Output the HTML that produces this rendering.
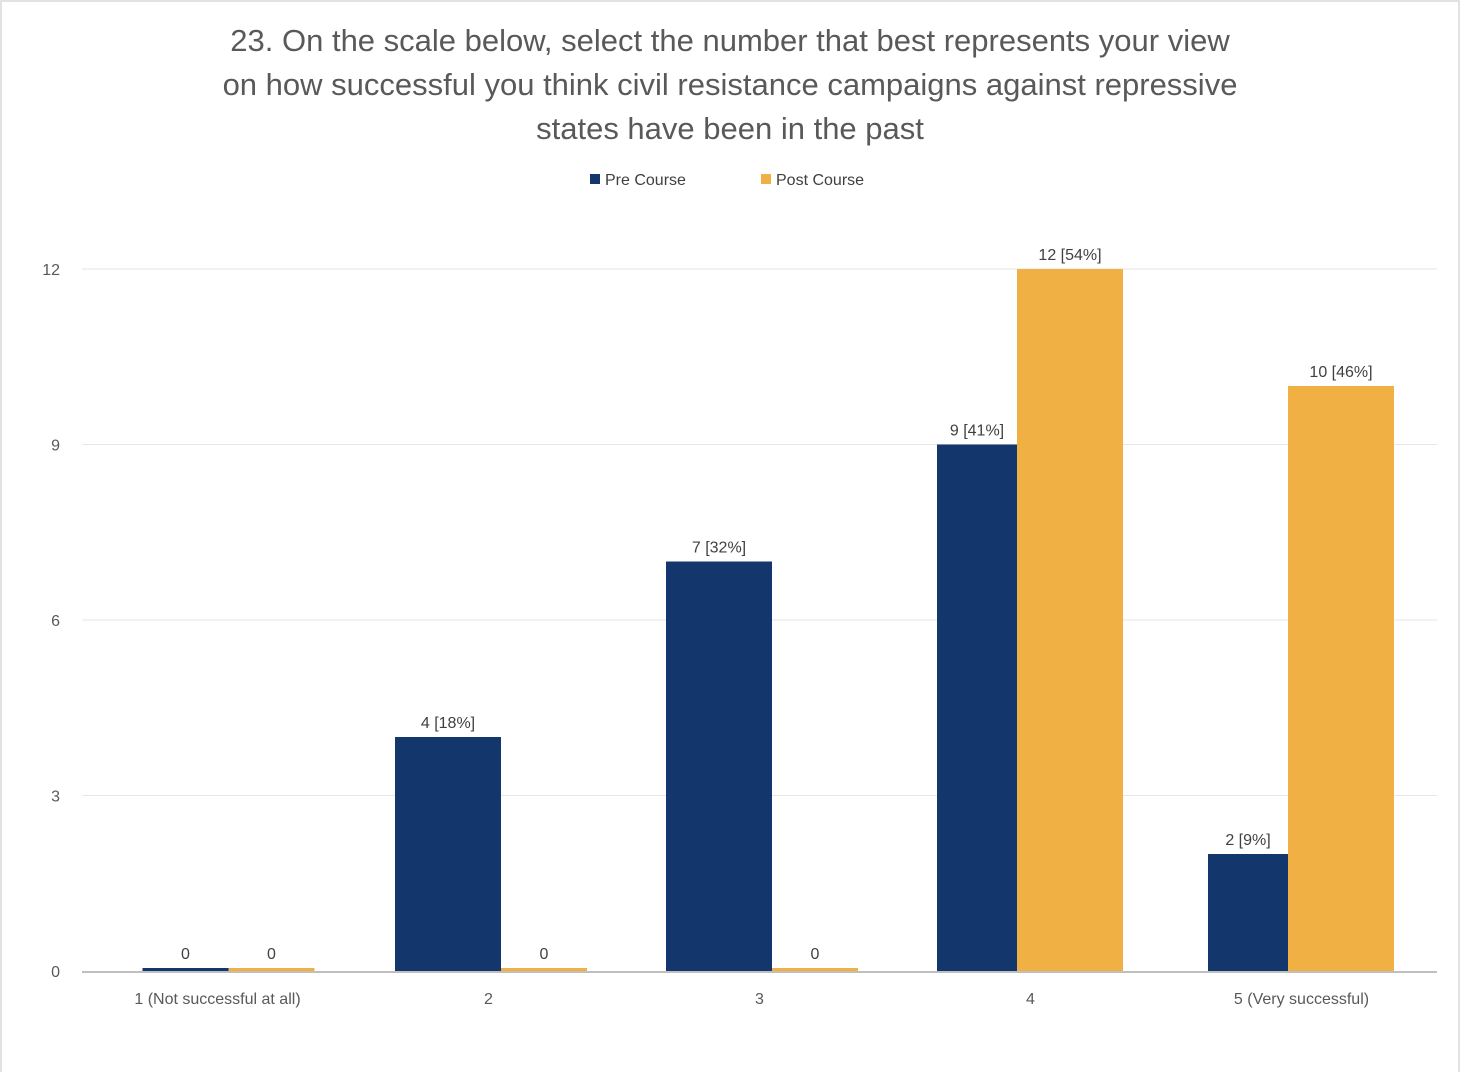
<!DOCTYPE html>
<html><head><meta charset="utf-8"><style>
body{margin:0;background:#fff;font-family:"Liberation Sans",sans-serif;}
#wrap{position:relative;width:1460px;height:1072px;overflow:hidden;}
</style></head><body>
<div id="wrap">
<svg id="chart" width="1460" height="1072">
<rect x="1" y="1" width="1458" height="1080" fill="#fff" stroke="#d9d9d9" stroke-width="1.5"/>
<g fill="#595959" font-size="31" text-anchor="middle">
<text x="730" y="51">23. On the scale below, select the number that best represents your view</text>
<text x="730" y="95">on how successful you think civil resistance campaigns against repressive</text>
<text x="730" y="139">states have been in the past</text>
</g>
<g font-size="16" fill="#404040">
<rect x="590" y="174" width="10" height="10" fill="#13366d"/>
<text x="605" y="185">Pre Course</text>
<rect x="761" y="174" width="10" height="10" fill="#f0b043"/>
<text x="776" y="185">Post Course</text>
</g>
<g id="plot"></g>
</svg>
</div>
<script>
const categories=["1 (Not successful at all)","2","3","4","5 (Very successful)"];
const preValues=[0,4,7,9,2];
const postValues=[0,0,0,12,10];
const preLabels=["0","4 [18%]","7 [32%]","9 [41%]","2 [9%]"];
const postLabels=["0","0","0","12 [54%]","10 [46%]"];
const yTicks=[0,3,6,9,12];
const NS="http://www.w3.org/2000/svg";
const L=82,R=1437,T=269,B=971,yMax=12;
const y=v=>B-(v/yMax)*(B-T);
const bandW=(R-L)/categories.length;
const cx=i=>L+bandW*(i+0.5);
const g=document.getElementById('plot');
function mk(tag,attrs,txt){const e=document.createElementNS(NS,tag);for(const k in attrs)e.setAttribute(k,attrs[k]);if(txt!==undefined)e.textContent=txt;g.appendChild(e);return e;}
yTicks.forEach(t=>{
  if(t>0){const l=mk('line',{x1:L,x2:R,y1:y(t),y2:y(t),stroke:'#e6e6e6','stroke-width':1});
  
  }
  const tx=mk('text',{x:60,y:y(t)+6,'text-anchor':'end','font-size':16,fill:'#595959'},String(t));
  
  
});
categories.forEach((c,i)=>{
  const c0=cx(i);
  const pv=preValues[i],qv=postValues[i];
  const ph=Math.max(y(0)-y(pv),3),qh=Math.max(y(0)-y(qv),3);
  const pw=pv===0?86:106, qw=qv===0?86:106;
  const px=pv===0?c0-75:c0-93.5;
  const qx=qv===0?(pv===0?c0+11:c0+12.5):c0-13.5;
  const pb=mk('rect',{x:px,y:y(0)-ph,width:pw,height:ph,fill:'#13366d'});
  
  
  const qb=mk('rect',{x:qx,y:y(0)-qh,width:qw,height:qh,fill:'#f0b043'});
  
  
  const plx=pv===0?px+pw/2:px+(qx-px)/2;
  const pl=mk('text',{x:plx,y:y(0)-ph-9,'text-anchor':'middle','font-size':16,fill:'#404040'},preLabels[i]);
  
  
  const ql=mk('text',{x:qx+qw/2,y:y(0)-qh-9,'text-anchor':'middle','font-size':16,fill:'#404040'},postLabels[i]);
  
  
  const xl=mk('text',{x:c0,y:1004,'text-anchor':'middle','font-size':16,fill:'#595959'},c);
  
  
});
const ax=mk('line',{x1:L,x2:R,y1:B+1,y2:B+1,stroke:'#bfbfbf','stroke-width':2});


</script>
</body></html>
